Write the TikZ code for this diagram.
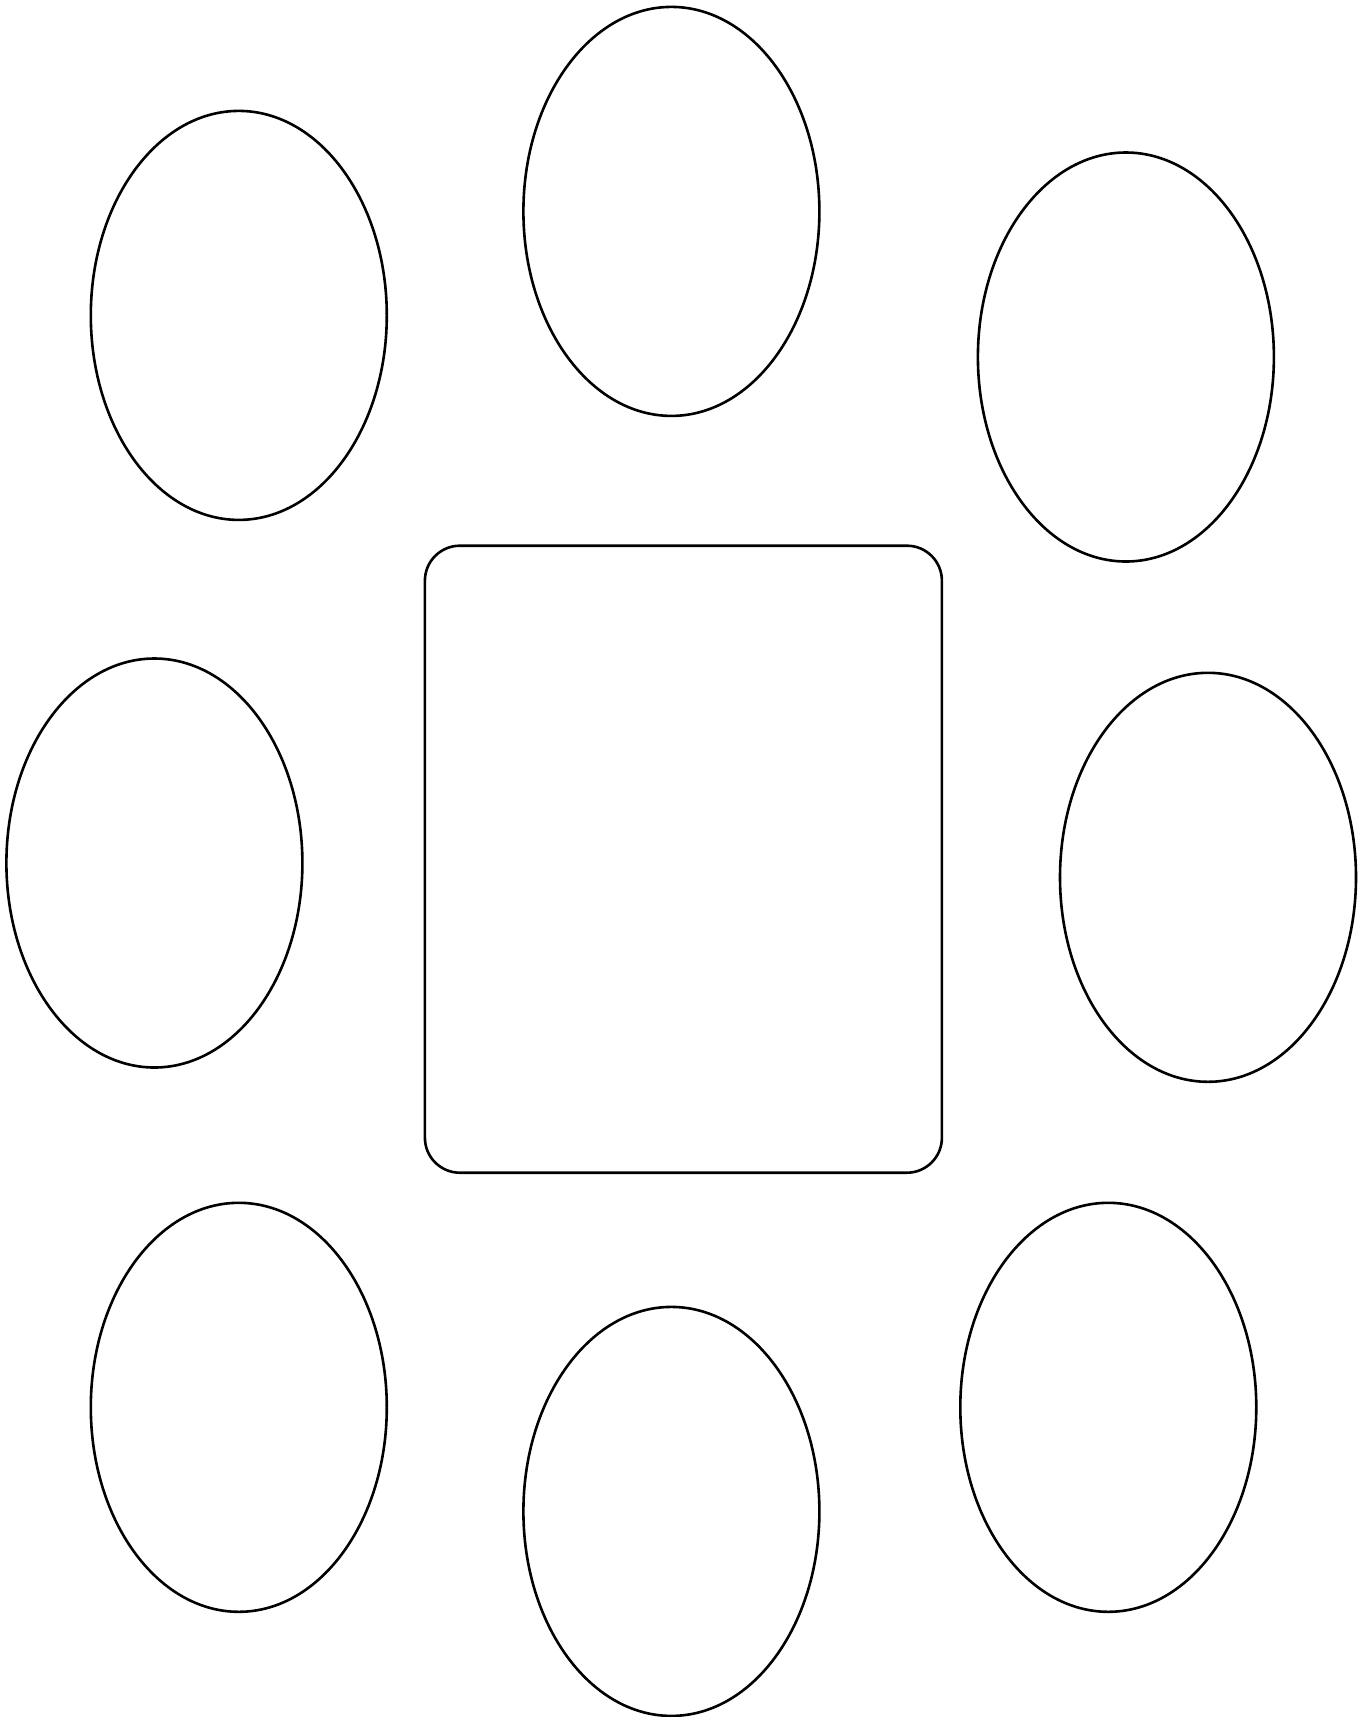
\documentclass[tikz,border=0pt]{standalone}
\usetikzlibrary{shapes.geometric}
\begin{document}
\begin{tikzpicture}[x=1pt,y=-1pt,
  oval/.style={draw=black,line width=2.6pt,ellipse,inner sep=0pt,minimum width=296pt,minimum height=409pt},
  centerbox/.style={draw=black,line width=2.6pt,rectangle,rounded corners=35pt,inner sep=0pt,minimum width=517pt,minimum height=627pt}]
\useasboundingbox[fill=white] (0,0) rectangle (1369,1717);
\node[oval] (top) at (671.4,211.4) {};
\node[oval] (tl) at (238.8,315.4) {};
\node[oval] (tr) at (1125.9,357.0) {};
\node[oval] (l) at (154.4,863.0) {};
\node[oval] (r) at (1208.0,877.3) {};
\node[oval] (bl) at (238.8,1407.3) {};
\node[oval] (b) at (671.4,1511.4) {};
\node[oval] (br) at (1108.3,1407.3) {};
\node[centerbox] (center) at (683.4,859.2) {};
\end{tikzpicture}
\end{document}
